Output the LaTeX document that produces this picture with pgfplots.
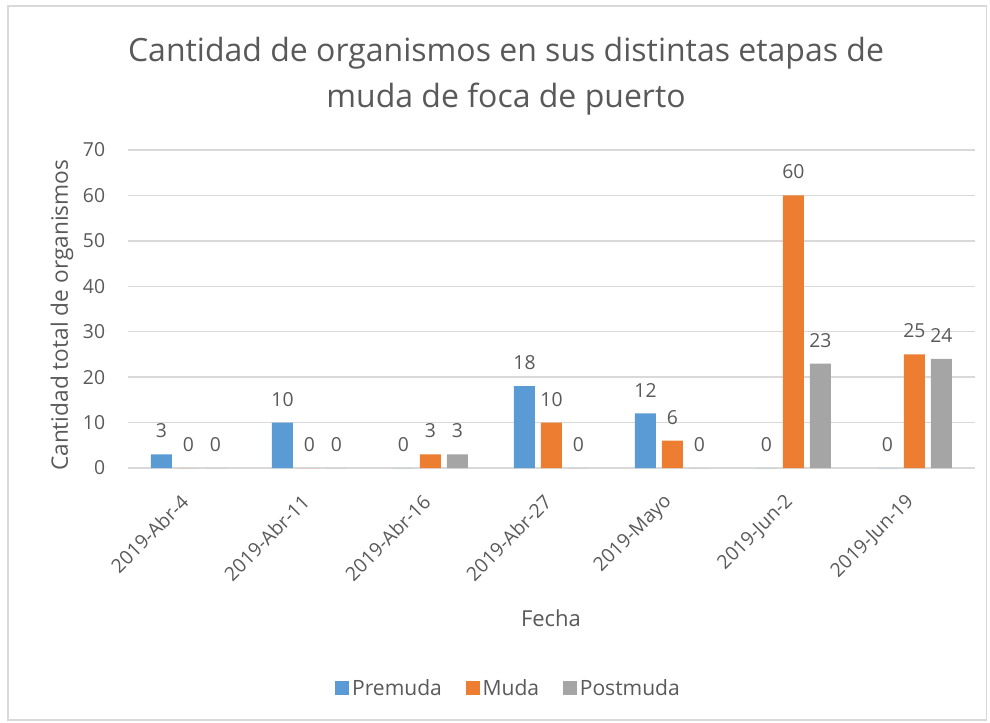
\documentclass[border=0pt]{standalone}
\usepackage{pgfplots}
\pgfplotsset{compat=1.18}
\usepackage{fontspec}
\setmainfont{Open Sans}
\definecolor{txt}{HTML}{595959}
\definecolor{gridc}{HTML}{D9D9D9}
\definecolor{cblue}{HTML}{5B9BD5}
\definecolor{corange}{HTML}{ED7D31}
\definecolor{cgray}{HTML}{A5A5A5}
\begin{document}
\begin{tikzpicture}
\path[use as bounding box] (0,0) rectangle (742.5pt,541.5pt);
\draw[gridc, line width=0.8pt] (6pt,1.5pt) rectangle (740pt,537pt);
\node[txt, font=\fontsize{24}{34.5}\selectfont, align=center] at (379.5pt,484pt)
  {Cantidad de organismos en sus distintas etapas de\\muda de foca de puerto};
\begin{axis}[
  at={(96pt,190.5pt)}, anchor=south west,
  scale only axis, width=635.25pt, height=238.5pt,
  ybar=4.5pt, bar width=15.75pt,
  xmin=-0.5, xmax=6.5, ymin=0, ymax=70,
  xtick={0,...,6},
  xticklabels={2019-Abr-4,2019-Abr-11,2019-Abr-16,2019-Abr-27,2019-Mayo,2019-Jun-2,2019-Jun-19},
  ytick={0,10,...,70},
  axis line style={draw=none},
  major tick length=0pt,
  xmajorgrids=false, ymajorgrids=true,
  grid style={draw=gridc, line width=1pt},
  /pgf/number format/assume math mode=true,
  tick label style={txt},
  yticklabel style={font=\fontsize{14.5}{16}\selectfont, anchor=east, inner sep=0pt, xshift=-17pt},
  xticklabel style={font=\fontsize{14.5}{16}\selectfont, xshift=-2.6pt, yshift=-22.9pt, rotate=45, anchor=east, inner sep=0pt},
  xlabel={Fecha},
  xlabel style={txt, font=\fontsize{16.5}{18}\selectfont, at={(axis description cs:0.4994,-0.472)}, anchor=center},
  ylabel={Cantidad total de organismos},
  ylabel style={txt, font=\fontsize{17}{19}\selectfont, at={(axis description cs:-0.078,0.48)}, anchor=center, rotate=0},
  nodes near coords,
  every node near coord/.append style={txt, font=\fontsize{14.5}{16}\selectfont, anchor=south, inner sep=0pt, yshift=12pt},
  legend columns=3,
  legend style={at={(axis description cs:0.4498,-0.692)}, anchor=center, draw=none, fill=none,
    font=\fontsize{15.8}{17}\selectfont, text=txt,
    /tikz/every even column/.append style={column sep=16pt}},
  legend image code/.code={\fill[#1] (0pt,-5.25pt) rectangle (10.5pt,5.25pt);},
]
\addplot[fill=cblue, draw=none] coordinates {(0,3) (1,10) (2,0) (3,18) (4,12) (5,0) (6,0)};
\addplot[fill=corange, draw=none] coordinates {(0,0) (1,0) (2,3) (3,10) (4,6) (5,60) (6,25)};
\addplot[fill=cgray, draw=none] coordinates {(0,0) (1,0) (2,3) (3,0) (4,0) (5,23) (6,24)};
\legend{Premuda,Muda,Postmuda}
\end{axis}
\end{tikzpicture}
\end{document}
